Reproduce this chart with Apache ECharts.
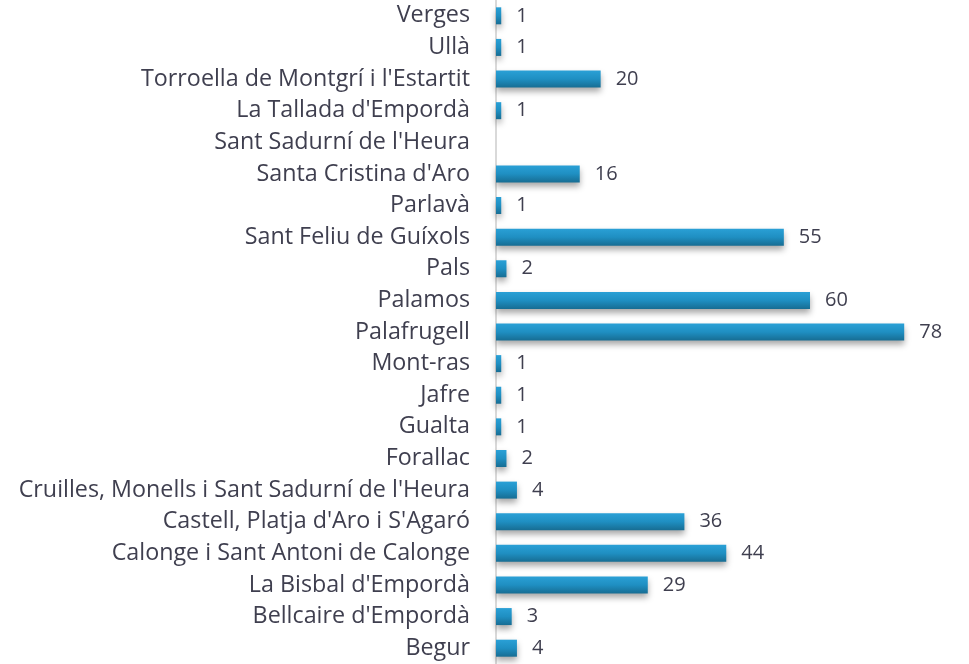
<!DOCTYPE html>
<html>
<head>
<meta charset="utf-8">
<script src="https://cdn.jsdelivr.net/npm/echarts@6/dist/echarts.min.js"></script>
<style>
  html, body { margin: 0; padding: 0; background: #fff; }
  #chart { width: 969px; height: 664px; }
</style>
</head>
<body>
<div id="chart"></div>
<script>
// categories bottom to top
var municipis = [
  "Begur", "Bellcaire d'Empordà", "La Bisbal d'Empordà", "Calonge i Sant Antoni de Calonge",
  "Castell, Platja d'Aro i S'Agaró", "Cruilles, Monells i Sant Sadurní de l'Heura",
  "Forallac", "Gualta", "Jafre", "Mont-ras", "Palafrugell", "Palamos", "Pals",
  "Sant Feliu de Guíxols", "Parlavà", "Santa Cristina d'Aro", "Sant Sadurní de l'Heura",
  "La Tallada d'Empordà", "Torroella de Montgrí i l'Estartit", "Ullà", "Verges"
];
var valors = [4, 3, 29, 44, 36, 4, 2, 1, 1, 1, 78, 60, 2, 55, 1, 16, null, 1, 20, 1, 1];

var myChart = echarts.init(document.getElementById("chart"));

myChart.setOption({
  animation: false,
  grid: {
    left: 496,
    right: 2,
    top: 0,
    bottom: 0,
    containLabel: false,
  },
  xAxis: {
    type: "value",
    min: 0,
    max: 90,
    show: false,
  },
  yAxis: {
    type: "category",
    data: municipis,
    axisLine: {
      show: true,
      lineStyle: { color: "#d9d9d9", width: 2 },
    },
    axisTick: { show: false },
    axisLabel: {
      color: "#3f3f4f",
      fontFamily: "Open Sans",
      fontSize: 23.3,
      margin: 26,
      padding: [3, 0, 0, 0],
    },
  },
  series: [
    {
      type: "bar",
      data: valors,
      barWidth: 17,
      itemStyle: {
        color: new echarts.graphic.LinearGradient(0, 0, 0, 1, [
          { offset: 0, color: "#2aa0d6" },
          { offset: 0.5, color: "#1f8fc2" },
          { offset: 1, color: "#176d93" },
        ]),
        shadowColor: "rgba(0,0,0,0.35)",
        shadowBlur: 6,
        shadowOffsetY: 4,
      },
      label: {
        show: true,
        position: "right",
        distance: 15,
        color: "#3f3f4f",
        fontFamily: "Open Sans",
        fontSize: 20,
        padding: [3, 0, 0, 0],
      },
    },
  ],
});
</script>
</body>
</html>
